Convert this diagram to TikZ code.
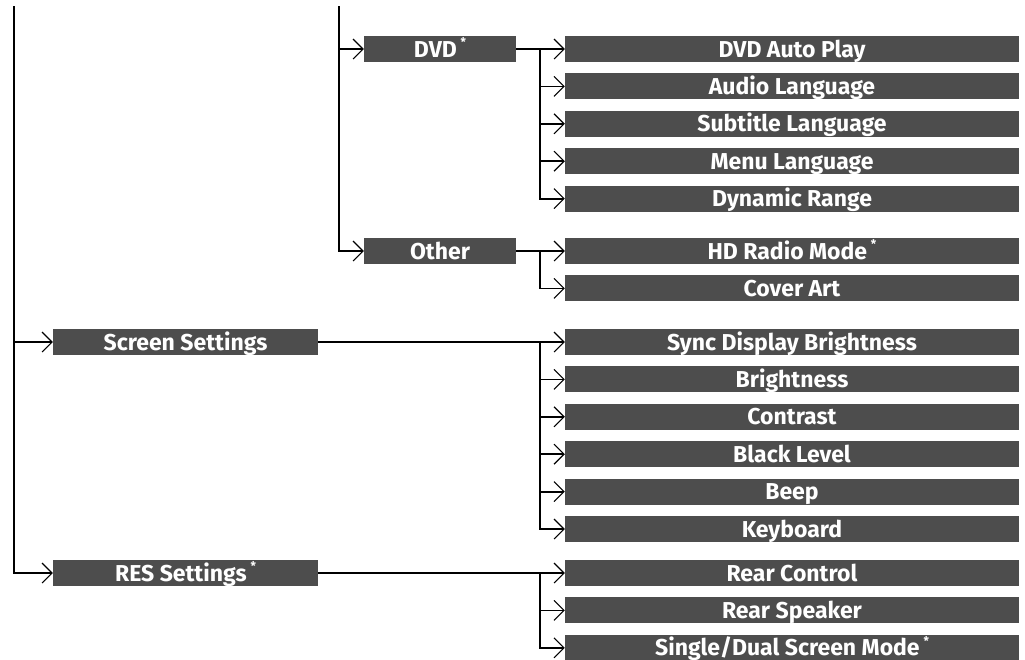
\documentclass[tikz,border=0pt]{standalone}
\usepackage{fontspec}
\setsansfont{Fira Sans}
\usepackage{tikz}
\usetikzlibrary{arrows.meta, positioning}
\definecolor{menugray}{HTML}{4D4D4D}
\newcommand{\optmark}{\,\raisebox{0.45em}{\fontsize{12}{12}\selectfont *}}
\tikzset{
    menubox/.style={rectangle, fill=menugray, text=white, inner sep=0pt, minimum height=26pt,
        text height=21pt, text depth=5pt, font=\sffamily\bfseries\fontsize{23}{24}\selectfont},
    topbox/.style={menubox, minimum width=265pt},
    midbox/.style={menubox, minimum width=152pt},
    subbox/.style={menubox, minimum width=454pt},
    link/.style={line width=1.8pt, draw=black},
    arrow/.style={link, -{Straight Barb[length=10pt, width=20pt, line width=1.1pt]}}
}

\begin{document}
\begin{tikzpicture}[x=1pt, y=-1pt, node distance=11pt]
    \useasboundingbox (0,0) rectangle (1025,659);

    % first level
    \node[topbox] (screen) at (185.5,342) {Screen Settings};
    \node[topbox] (res) at (185.5,573) {RES Settings\optmark};

    % second level
    \node[midbox] (dvd) at (440,49) {DVD\optmark};
    \node[midbox] (other) at (440,251) {Other};

    % DVD items
    \node[subbox] (dvdauto) at (792,49) {DVD Auto Play};
    \node[subbox, below=of dvdauto] (audiolang) {Audio Language};
    \node[subbox, below=of audiolang] (subtitle) {Subtitle Language};
    \node[subbox, below=of subtitle] (menulang) {Menu Language};
    \node[subbox, below=of menulang] (dynrange) {Dynamic Range};

    % Other items
    \node[subbox] (hdradio) at (792,251) {HD Radio Mode\optmark};
    \node[subbox, below=of hdradio] (coverart) {Cover Art};

    % screen items
    \node[subbox] (sync) at (792,342) {Sync Display Brightness};
    \node[subbox, below=of sync] (bright) {Brightness};
    \node[subbox, below=of bright] (contrast) {Contrast};
    \node[subbox, below=of contrast] (black) {Black Level};
    \node[subbox, below=of black] (beep) {Beep};
    \node[subbox, below=of beep] (keyboard) {Keyboard};

    % RES items
    \node[subbox] (rearctl) at (792,573) {Rear Control};
    \node[subbox, below=of rearctl] (rearspk) {Rear Speaker};
    \node[subbox, below=of rearspk] (single) {Single/Dual Screen Mode\optmark};

    \coordinate (ltop) at (14,6);
    \coordinate (mtop) at (339,6);
    \coordinate (brx) at (540,0);

    % trunks
    \draw[arrow] (ltop) |- (res);
    \draw[arrow] (ltop |- screen) -- (screen);
    \draw[arrow] (mtop) |- (other);
    \draw[arrow] (mtop |- dvd) -- (dvd);

    % branches
    \draw[arrow] (dvd) -- (dvdauto);
    \draw[arrow] (brx |- dvd) |- (dynrange);
    \foreach \n in {audiolang, subtitle, menulang}
        \draw[arrow] (brx |- \n) -- (\n);

    \draw[arrow] (other) -- (hdradio);
    \draw[arrow] (brx |- other) |- (coverart);

    \draw[arrow] (screen) -- (sync);
    \draw[arrow] (brx |- screen) |- (keyboard);
    \foreach \n in {bright, contrast, black, beep}
        \draw[arrow] (brx |- \n) -- (\n);

    \draw[arrow] (res) -- (rearctl);
    \draw[arrow] (brx |- res) |- (single);
    \draw[arrow] (brx |- rearspk) -- (rearspk);
\end{tikzpicture}
\end{document}
